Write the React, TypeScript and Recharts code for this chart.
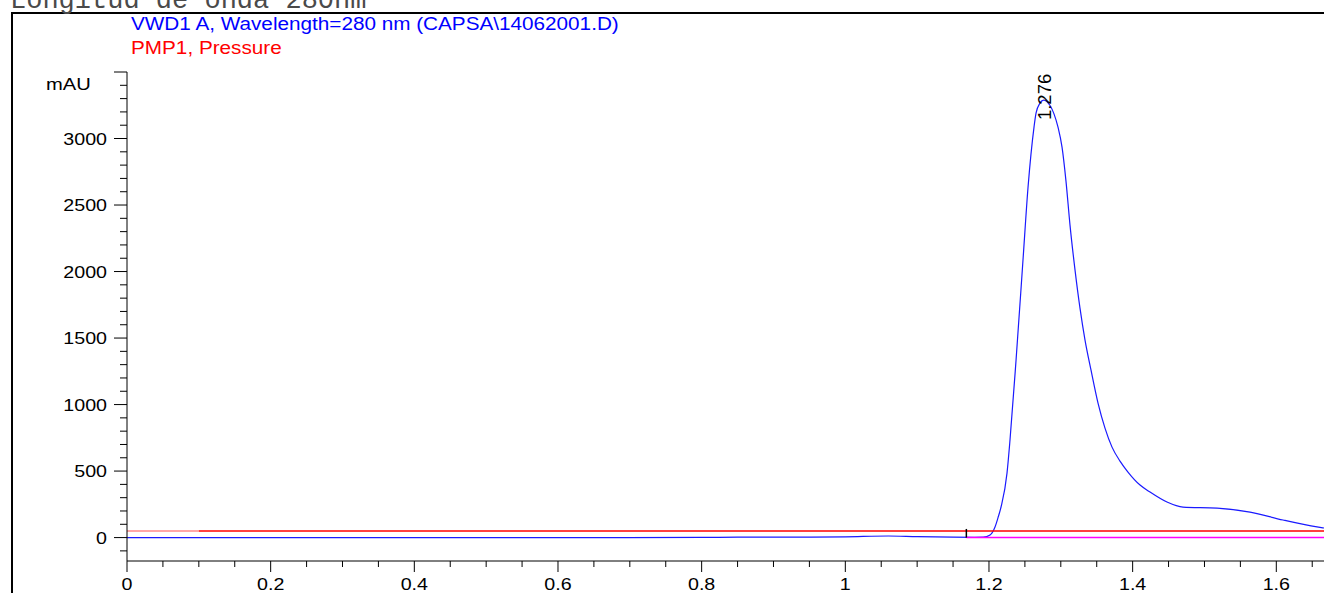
import React from 'react';
import { ComposedChart, Line, XAxis, YAxis, ReferenceLine, ReferenceDot } from 'recharts';

// Retention time (min) and absorbance (mAU)
const times = [0, 0.3, 0.6, 0.8, 0.85, 0.9, 0.95, 1.0, 1.06, 1.1, 1.15, 1.18, 1.192, 1.2015, 1.2084, 1.2126, 1.2168, 1.2251, 1.2293, 1.2377, 1.2474, 1.2544, 1.2627, 1.2655, 1.271, 1.276, 1.285, 1.2905, 1.2961, 1.3017, 1.3072, 1.3128, 1.3198, 1.3267, 1.3337, 1.342, 1.3518, 1.3615, 1.3713, 1.3824, 1.3935, 1.4103, 1.4242, 1.4478, 1.4701, 1.5175, 1.5634, 1.6094, 1.6567, 1.6664];
const absorbance = [0, 0, 0, 1, 3, 3, 4, 6, 12, 7, 3, 2, 3, 20, 80, 150, 230, 485, 735, 1335, 2090, 2635, 3086, 3191, 3266, 3289, 3248, 3185, 3085, 2935, 2680, 2349, 2011, 1725, 1485, 1260, 1011, 823, 680, 575, 493, 395, 342, 267, 229, 222, 192, 132, 80, 72];

const pressureTimes = [0, 0.1, 1.6664];
const pressureLevel = 50;
const baselineTimes = [1.1685, 1.6664];
const peakTime = 1.276;
const peakHeight = 3289;
const peakLabel = '1.276';

const xDomain = [0, 1.6664];
const yDomain = [-176, 3500];
const xTicks = [0, 0.05, 0.1, 0.15, 0.2, 0.25, 0.3, 0.35, 0.4, 0.45, 0.5, 0.55, 0.6, 0.65, 0.7, 0.75, 0.8, 0.85, 0.9, 0.95, 1, 1.05, 1.1, 1.15, 1.2, 1.25, 1.3, 1.35, 1.4, 1.45, 1.5, 1.55, 1.6, 1.65];
const xLabelTicks = [0, 0.2, 0.4, 0.6, 0.8, 1, 1.2, 1.4, 1.6];
const yTicks = [-100, 0, 100, 200, 300, 400, 500, 600, 700, 800, 900, 1000, 1100, 1200, 1300, 1400, 1500, 1600, 1700, 1800, 1900, 2000, 2100, 2200, 2300, 2400, 2500, 2600, 2700, 2800, 2900, 3000, 3100, 3200, 3300, 3400, 3500];
const yLabelTicks = [0, 500, 1000, 1500, 2000, 2500, 3000];
const yLongTicks = [0, 500, 1000, 1500, 2000, 2500, 3000, 3500];

const title = 'Longitud de onda 280nm';
const legendSignal = 'VWD1 A, Wavelength=280 nm (CAPSA\\14062001.D)';
const legendPressure = 'PMP1, Pressure';
const yUnit = 'mAU';

const signalData = times.map((t, i) => ({ t, v: absorbance[i] }));
const pinkData = pressureTimes.slice(0, 2).map((t) => ({ t, p: pressureLevel }));
const pressureData = pressureTimes.slice(1).map((t) => ({ t, p: pressureLevel }));
const baselineData = baselineTimes.map((t) => ({ t, b: 0 }));

const FONT = '"Liberation Sans", Arial, sans-serif';
const near = (a: number, list: number[]) => list.some((b) => Math.abs(a - b) < 1e-6);

const XTick = (props: any) => {
  const { x, y, payload } = props;
  const v = payload.value;
  const major = near(v, xLabelTicks);
  return (
    <g>
      <line x1={x} y1={y} x2={x} y2={y + (major ? 11 : 6)} stroke="#000" strokeWidth={1} />
      {major && (
        <text transform={`translate(${x},${y + 29}) scale(1.17,1)`} textAnchor="middle" fontFamily={FONT} fontSize={16.8} fill="#000">
          {String(v)}
        </text>
      )}
    </g>
  );
};

const YTick = (props: any) => {
  const { x, y, payload } = props;
  const v = payload.value;
  const long = near(v, yLongTicks);
  const labeled = near(v, yLabelTicks);
  return (
    <g>
      <line x1={x} y1={y} x2={x - (long ? 13 : 7)} y2={y} stroke="#000" strokeWidth={1} />
      {labeled && (
        <text transform={`translate(${x - 20},${y + 6}) scale(1.17,1)`} textAnchor="end" fontFamily={FONT} fontSize={16.8} fill="#000">
          {String(v)}
        </text>
      )}
    </g>
  );
};

const PeakLabel = (props: any) => {
  const { cx, cy } = props;
  return (
    <text transform={`translate(${cx + 7},${cy + 20}) rotate(-90)`} textAnchor="start" fontFamily={FONT} fontSize={18.5} fill="#000">
      {peakLabel}
    </text>
  );
};

export default function App() {
  return (
    <div style={{ position: 'fixed', left: 0, top: 0, width: 1324, height: 593, overflow: 'hidden', background: '#fff' }}>
      <svg width={1324} height={593} style={{ position: 'absolute', left: 0, top: 0 }}>
        <line x1={12} y1={13} x2={1324} y2={13} stroke="#000" strokeWidth={2} />
        <line x1={12} y1={12} x2={12} y2={593} stroke="#000" strokeWidth={2} />
        <text x={10} y={7.5} fontFamily='"Liberation Mono", monospace' fontSize={27} fill="#4a4a4a">{title}</text>
        <text transform="translate(131,30) scale(1.12,1)" fontFamily={FONT} fontSize={18.5} fill="#0000ff">{legendSignal}</text>
        <text transform="translate(131,54) scale(1.12,1)" fontFamily={FONT} fontSize={18.5} fill="#ff0000">{legendPressure}</text>
        <text transform="translate(46,90) scale(1.2,1)" fontFamily={FONT} fontSize={16.8} fill="#000">{yUnit}</text>
      </svg>
      <div style={{ position: 'absolute', left: 0, top: 0 }}>
        <ComposedChart width={1324} height={593} margin={{ top: 72, right: 0, bottom: 0, left: 0 }}>
          <XAxis
            dataKey="t"
            type="number"
            domain={xDomain}
            allowDataOverflow
            ticks={xTicks}
            interval={0}
            tickSize={0}
            tickMargin={0}
            tickLine={false}
            tick={<XTick />}
            axisLine={{ stroke: '#000', strokeWidth: 1 }}
            height={32}
          />
          <YAxis
            type="number"
            domain={yDomain}
            allowDataOverflow
            ticks={yTicks}
            interval={0}
            tickSize={0}
            tickMargin={0}
            tickLine={false}
            tick={<YTick />}
            axisLine={{ stroke: '#000', strokeWidth: 1 }}
            width={127}
          />
          <Line data={signalData} dataKey="v" type="monotone" stroke="#1a1aff" strokeWidth={1.2} dot={false} activeDot={false} isAnimationActive={false} />
          <Line data={baselineData} dataKey="b" type="linear" stroke="#ff00ff" strokeWidth={1.5} dot={false} activeDot={false} isAnimationActive={false} />
          <Line data={pinkData} dataKey="p" type="linear" stroke="#ff8a8a" strokeWidth={1.5} dot={false} activeDot={false} isAnimationActive={false} />
          <Line data={pressureData} dataKey="p" type="linear" stroke="#ff0000" strokeWidth={1.5} dot={false} activeDot={false} isAnimationActive={false} />
          <ReferenceLine segment={[{ x: baselineTimes[0], y: 0 }, { x: baselineTimes[0], y: 65 }]} stroke="#000" strokeWidth={1.5} />
          <ReferenceDot x={peakTime} y={peakHeight} r={0} shape={<PeakLabel />} />
        </ComposedChart>
      </div>
    </div>
  );
}
